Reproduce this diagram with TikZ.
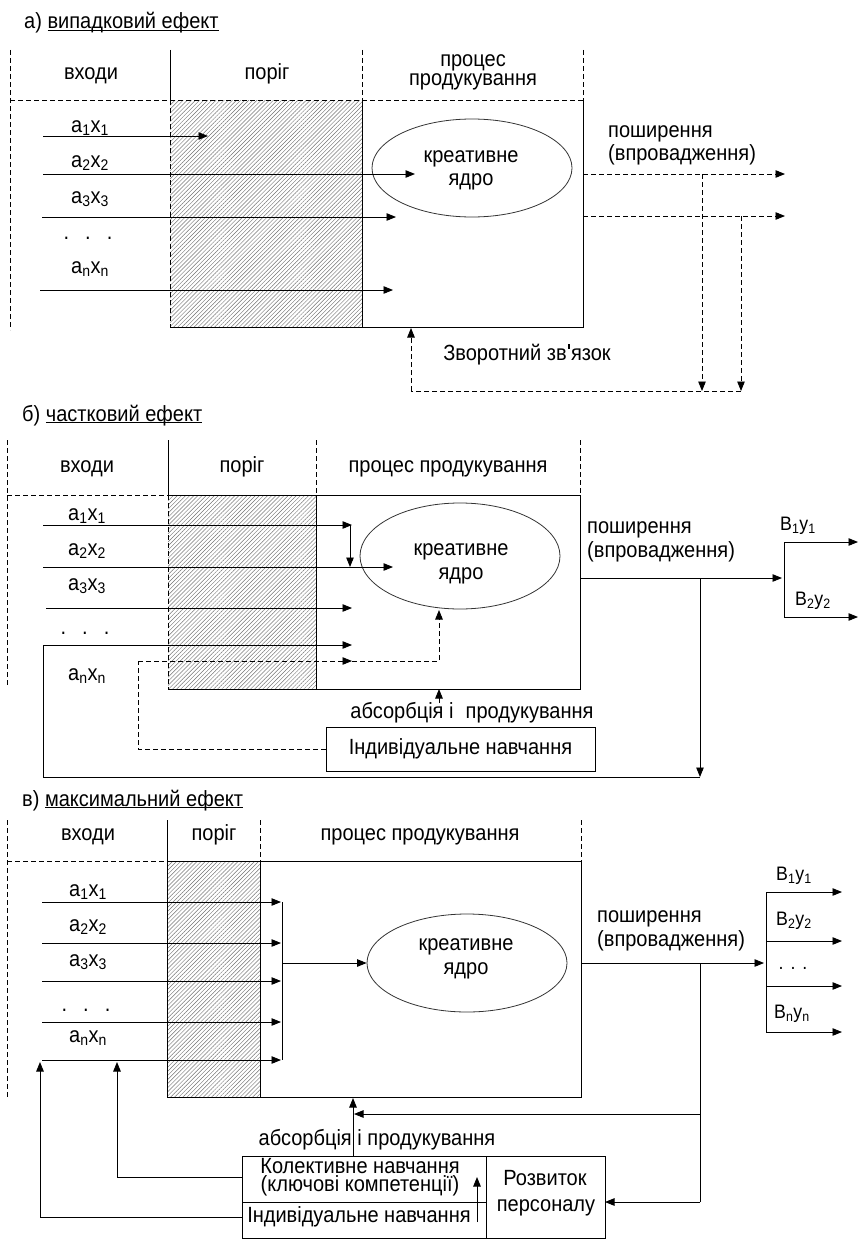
\documentclass[tikz,border=0pt]{standalone}
\usepackage{fontspec}
\setmainfont[FakeStretch=0.91]{Liberation Sans}
\usetikzlibrary{arrows.meta,patterns.meta,shapes.geometric}
\newcommand\ix[1]{\textsubscript{#1}}
\newcommand\undl[1]{\underline{\smash{#1}}}
% straight apostrophe
\newcommand\apos{\hspace{0.06em}\rule[0.49em]{0.075em}{0.24em}\hspace{0.06em}}
% two centred lines; the box baseline is that of the second line
\newcommand\twolines[2]{\vbox{\halign{\hfil##\hfil\cr#1\cr#2\cr}}}
\tikzset{
  ln/.style={line width=0.9pt},
  dsh/.style={line width=0.9pt, dash pattern=on 5pt off 3pt},
  tip/.style={-{Triangle[length=9.5pt,width=7.5pt]}},
  arr/.style={ln, tip},
  darr/.style={dsh, tip},
  hatch/.style={pattern={Lines[angle=45,distance=2.9pt,line width=0.45pt]}, pattern color=black!55},
  txt/.style={inner sep=0pt, anchor=base, font=\fontsize{22}{25}\selectfont},
  tight/.style={inner sep=0pt, anchor=base, font=\fontsize{22}{#1}\selectfont},
  sml/.style={inner sep=0pt, anchor=base, font=\fontsize{19.5}{22}\selectfont},
  core/.style={ellipse, draw=black!80, line width=0.8pt, inner sep=0pt, minimum width=200pt, minimum height=#1},
  boxed/.style={draw, line width=0.9pt, inner sep=0pt, font=\fontsize{22}{25}\selectfont},
}
\begin{document}
\begin{tikzpicture}[x=1pt,y=-1pt]
\useasboundingbox (0,0) rectangle (860,1239);

% ================= а) випадковий ефект =================
\node[txt, anchor=base west] (titA) at (24,29) {а) \undl{випадковий ефект}};
\fill[hatch] (170,100) rectangle (362,327);
\draw[dsh] (10,50) -- (10,330);
\draw[ln] (170,50) -- (170,100);
\draw[dsh] (170,100) -- (170,327);
\draw[dsh] (362,50) -- (362,100);
\draw[dsh] (583,50) -- (583,100);
\draw[dsh] (10,100) -- (583,100);
\draw[ln] (362,100) -- (362,327);
\draw[ln] (170,327) -- (583,327) -- (583,100);

\node[txt] (inA) at (91,80) {входи};
\node[txt] (thA) at (267,80) {поріг};
\node[tight=19pt] (prA) at (473,85) {\twolines{процес}{продукування}};

\node[core=98pt] (coreA) at (472,168) {};
\node[txt] (kA1) at (471,162) {креативне};
\node[txt] (kA2) at (471,185) {ядро};

% inputs
\coordinate (a1A) at (43,136);  \coordinate (a1Ae) at (208,136);
\coordinate (a2A) at (43,174);  \coordinate (a2Ae) at (415,174);
\coordinate (a3A) at (42,217);  \coordinate (a3Ae) at (396,217);
\coordinate (anA) at (40,290);  \coordinate (anAe) at (393,290);
\draw[arr] (a1A) -- (a1Ae);
\draw[arr] (a2A) -- (a2Ae);
\draw[arr] (a3A) -- (a3Ae);
\draw[arr] (anA) -- (anAe);
\node[txt] (la1A) at (90,132) {a\ix1x\ix1};
\node[txt] (la2A) at (90,167) {a\ix2x\ix2};
\node[txt] (la3A) at (90,203) {a\ix3x\ix3};
\node[txt] (ldA) at (88,239) {.\hspace{16pt}.\hspace{16pt}.};
\node[txt] (lanA) at (90,273) {a\ix nx\ix n};

% outputs and feedback
\coordinate (o1A) at (583,174); \coordinate (o1Ae) at (785,174);
\coordinate (o2A) at (583,216); \coordinate (o2Ae) at (785,216);
\draw[darr] (o1A) -- (o1Ae);
\draw[darr] (o2A) -- (o2Ae);
\coordinate (f1A) at (702,174); \coordinate (f1Ab) at (702,391);
\coordinate (f2A) at (741,216); \coordinate (f2Ab) at (741,391);
\coordinate (fLA) at (411,391); \coordinate (fTA) at (411,328);
\draw[darr] (f1A) -- (f1Ab);
\draw[darr] (f2A) -- (f2Ab);
\draw[dsh] (f2Ab) -- (fLA);
\draw[darr] (fLA) -- (fTA);
\node[txt, anchor=base west] (spA1) at (608,137) {поширення};
\node[txt, anchor=base west] (spA2) at (608,160) {(впровадження)};
\node[txt] (fbA) at (527,360) {Зворотний зв\apos язок};

% ================= б) частковий ефект =================
\node[txt, anchor=base west] (titB) at (22,421) {б) \undl{частковий ефект}};
\fill[hatch] (168,495) rectangle (316,689);
\draw[dsh] (7,440) -- (7,685);
\draw[ln] (168,440) -- (168,495);
\draw[dsh] (168,495) -- (168,689);
\draw[dsh] (316,440) -- (316,495);
\draw[dsh] (580,440) -- (580,495);
\draw[dsh] (7,495) -- (168,495);
\draw[ln] (168,495) -- (580,495) -- (580,689) -- (168,689);
\draw[ln] (316,495) -- (316,689);

\node[txt] (inB) at (87,472) {входи};
\node[txt] (thB) at (242,472) {поріг};
\node[txt] (prB) at (448,472) {процес продукування};

\node[core=106pt] (coreB) at (460,556) {};
\node[txt] (kB1) at (461,555) {креативне};
\node[txt] (kB2) at (461,579) {ядро};

\coordinate (a1B) at (43,525);  \coordinate (a1Be) at (352,525);
\coordinate (j1B) at (350,525); \coordinate (j1Bb) at (350,567);
\coordinate (a2B) at (43,567);  \coordinate (a2Be) at (393,567);
\coordinate (a3B) at (46,608);  \coordinate (a3Be) at (352,608);
\draw[arr] (a1B) -- (a1Be);
\draw[arr] (j1B) -- (j1Bb);
\draw[arr] (a2B) -- (a2Be);
\draw[arr] (a3B) -- (a3Be);
\node[txt] (la1B) at (87,520) {a\ix1x\ix1};
\node[txt] (la2B) at (87,555) {a\ix2x\ix2};
\node[txt] (la3B) at (87,590) {a\ix3x\ix3};
\node[txt] (ldB) at (85,634) {.\hspace{16pt}.\hspace{16pt}.};
\node[txt] (lanB) at (87,680) {a\ix nx\ix n};

% output
\coordinate (oB) at (580,578); \coordinate (oBe) at (782,578);
\draw[arr] (oB) -- (oBe);
\coordinate (brB1) at (784,542); \coordinate (brB2) at (784,617);
\coordinate (brB1e) at (858,542); \coordinate (brB2e) at (858,617);
\draw[ln] (brB1) -- (brB2);
\draw[arr] (brB1) -- (brB1e);
\draw[arr] (brB2) -- (brB2e);
\node[sml] (y1B) at (798,530) {В\ix1у\ix1};
\node[sml] (y2B) at (813,605) {В\ix2у\ix2};
\node[txt, anchor=base west] (spB1) at (587,533) {поширення};
\node[txt, anchor=base west] (spB2) at (587,557) {(впровадження)};

% feedback loop into the last input
\coordinate (jB) at (700,578); \coordinate (jBb) at (700,777);
\coordinate (lpB1) at (43,777); \coordinate (lpB2) at (43,645);
\coordinate (anBe) at (352,645);
\draw[arr] (jB) -- (jBb);
\draw[arr] (jBb) -- (lpB1) -- (lpB2) -- (anBe);

% individual learning
\node[boxed, minimum width=269pt, minimum height=44pt] (indB) at (460.5,749) {Індивідуальне навчання};
\coordinate (dB1) at (138,749); \coordinate (dB2) at (138,661);
\coordinate (dB3) at (352,661); \coordinate (dB4) at (439,661);
\coordinate (dB5) at (439,610);
\draw[dsh] (indB.west) -- (dB1) -- (dB2);
\draw[darr] (dB2) -- (dB3);
\draw[darr] (dB3) -- (dB4) -- (dB5);
\node[txt] (abB) at (472,718) {абсорбція і\hspace{0.55em}продукування};
\coordinate (abB1) at (439,703); \coordinate (abB2) at (439,689);
\draw[arr] (abB1) -- (abB2);

% ================= в) максимальний ефект =================
\node[txt, anchor=base west] (titC) at (22,806) {в) \undl{максимальний ефект}};
\fill[hatch] (167,861) rectangle (260,1097);
\draw[dsh] (7,820) -- (7,1097);
\draw[ln] (167,820) -- (167,1097);
\draw[dsh] (260,820) -- (260,861);
\draw[dsh] (581,820) -- (581,861);
\draw[dsh] (7,861) -- (167,861);
\draw[ln] (167,861) -- (581,861) -- (581,1097) -- (167,1097);
\draw[ln] (260,861) -- (260,1097);

\node[txt] (inC) at (88,840) {входи};
\node[txt] (thC) at (214,840) {поріг};
\node[txt] (prC) at (420,840) {процес продукування};

\node[core=98pt] (coreC) at (467,963) {};
\node[txt] (kC1) at (466,950) {креативне};
\node[txt] (kC2) at (466,974) {ядро};

\coordinate (barC1) at (282,902); \coordinate (barC2) at (282,1060);
\foreach \yy/\nm in {902/1,943/2,981/3,1022/4,1060/5}{
  \coordinate (inC\nm) at (42,\yy);
  \coordinate (inC\nm e) at (281,\yy);
  \draw[arr] (inC\nm) -- (inC\nm e);
}
\draw[ln] (barC1) -- (barC2);
\coordinate (barCm) at (282,963);
\draw[arr] (barCm) -- (coreC.west);
\node[txt] (la1C) at (88,896) {a\ix1x\ix1};
\node[txt] (la2C) at (88,931) {a\ix2x\ix2};
\node[txt] (la3C) at (88,966) {a\ix3x\ix3};
\node[txt] (ldC) at (86,1011) {.\hspace{16pt}.\hspace{16pt}.};
\node[txt] (lanC) at (88,1042) {a\ix nx\ix n};

% output
\coordinate (oC) at (581,963); \coordinate (oCe) at (764,963);
\draw[arr] (oC) -- (oCe);
\coordinate (brC1) at (766,892); \coordinate (brC4) at (766,1032);
\draw[ln] (brC1) -- (brC4);
\foreach \yy/\nm in {892/1,941/2,986/3,1032/4}{
  \coordinate (brC\nm s) at (766,\yy);
  \coordinate (brC\nm e) at (842,\yy);
  \draw[arr] (brC\nm s) -- (brC\nm e);
}
\node[sml] (y1C) at (794,880) {В\ix1у\ix1};
\node[sml] (y2C) at (794,925) {В\ix2у\ix2};
\node[sml] (ydC) at (793,969) {.\hspace{7pt}.\hspace{7pt}.};
\node[sml] (ynC) at (792,1018) {В\ix nу\ix n};
\node[txt, anchor=base west] (spC1) at (597,922) {поширення};
\node[txt, anchor=base west] (spC2) at (597,946) {(впровадження)};

% learning block
\coordinate (bxC1) at (242,1156); \coordinate (bxC2) at (605,1238);
\draw[ln] (bxC1) rectangle (bxC2);
\draw[ln] (486,1156) -- (486,1238);
\draw[ln] (242,1202) -- (486,1202);
\node[tight=18pt] (colC) at (360,1191) {\twolines{Колективне навчання}{(ключові компетенції)}};
\node[txt] (indC) at (359,1222) {Індивідуальне навчання};
\node[txt] (devC1) at (545,1185) {Розвиток};
\node[txt] (devC2) at (546,1211) {персоналу};
\coordinate (inIC) at (477,1222); \coordinate (inICt) at (477,1177);
\draw[arr] (inIC) -- (inICt);

% feedback from the output
\coordinate (jC) at (700,963); \coordinate (jCb) at (700,1202);
\coordinate (devCr) at (605,1202);
\coordinate (jCm) at (700,1114); \coordinate (abCe) at (354,1114);
\draw[ln] (jC) -- (jCb);
\draw[arr] (jCb) -- (devCr);
\draw[arr] (jCm) -- (abCe);
\coordinate (abC1) at (353,1156); \coordinate (abC2) at (353,1098);
\draw[arr] (abC1) -- (abC2);
\node[txt] (abC) at (377,1145) {абсорбція і продукування};

% learning back to the inputs
\coordinate (lC1) at (242,1217); \coordinate (lC1c) at (40,1217); \coordinate (lC1t) at (40,1062);
\coordinate (lC2) at (242,1177); \coordinate (lC2c) at (117,1177); \coordinate (lC2t) at (117,1062);
\draw[arr] (lC1) -- (lC1c) -- (lC1t);
\draw[arr] (lC2) -- (lC2c) -- (lC2t);
\end{tikzpicture}
\end{document}
